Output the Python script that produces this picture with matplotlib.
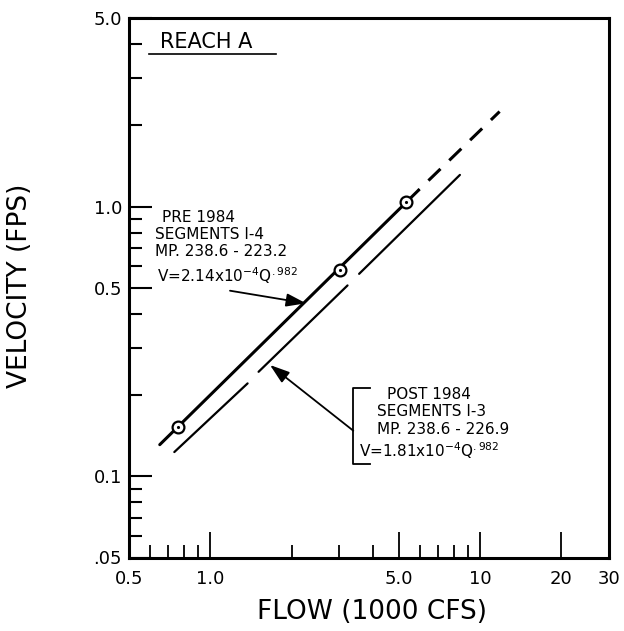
import matplotlib
matplotlib.use("Agg")
import matplotlib.pyplot as plt
from matplotlib.ticker import NullFormatter
from matplotlib.lines import Line2D

# values (flow in 1000 cfs, velocity in fps)
pre_q = [0.65, 5.91]
pre_v = [0.131, 1.15]
pre_ext_q = [5.91, 11.8]
pre_ext_v = [1.15, 2.25]
pre_pts_q = [0.757, 3.03, 5.33]
pre_pts_v = [0.152, 0.584, 1.04]
# post 1984 line is drawn in three broken pieces
post_q = [[0.736, 1.375], [1.51, 3.225], [3.56, 8.41]]
post_v = [[0.123, 0.221], [0.244, 0.510], [0.563, 1.31]]

x_major = [0.5, 1.0, 5.0, 10, 20, 30]
x_labels = ["0.5", "1.0", "5.0", "10", "20", "30"]
x_minor = [0.6, 0.7, 0.8, 0.9, 2, 3, 4, 6, 7, 8, 9]
y_major = [0.05, 0.1, 0.5, 1.0, 5.0]
y_labels = [".05", "0.1", "0.5", "1.0", "5.0"]
y_minor = [0.06, 0.07, 0.08, 0.09, 0.2, 0.3, 0.4, 0.6, 0.7, 0.8, 0.9, 2, 3, 4]

plt.rcParams['font.family'] = ['DejaVu Sans']
plt.rcParams['mathtext.fontset'] = 'dejavusans'

fig = plt.figure(figsize=(6.24, 6.31), dpi=100)
ax = fig.add_axes([129 / 624, (631 - 557.5) / 631, 480 / 624, 539.5 / 631])
ax.set_xscale('log')
ax.set_yscale('log')
ax.set_xlim(0.5, 30)
ax.set_ylim(0.05, 5)

ax.set_xticks(x_major)
ax.set_xticklabels(x_labels)
ax.set_xticks(x_minor, minor=True)
ax.set_yticks(y_major)
ax.set_yticklabels(y_labels)
ax.set_yticks(y_minor, minor=True)
ax.xaxis.set_minor_formatter(NullFormatter())
ax.yaxis.set_minor_formatter(NullFormatter())
ax.tick_params(axis='x', which='major', direction='in', length=19, width=1.3, pad=9, labelsize=13)
ax.tick_params(axis='x', which='minor', direction='in', length=9.5, width=1.3)
ax.tick_params(axis='y', which='major', direction='in', length=16.5, width=1.5, pad=5, labelsize=13)
ax.tick_params(axis='y', which='minor', direction='in', length=9, width=1.5)
for s in ax.spines.values():
    s.set_linewidth(2.2)

# lines
ax.plot(pre_q, pre_v, color='black', lw=2.2, solid_capstyle='round')
ax.plot(pre_ext_q, pre_ext_v, color='black', lw=2.2, linestyle=(5, (5.5, 4)))
for q, v in zip(post_q, post_v):
    ax.plot(q, v, color='black', lw=1.6, solid_capstyle='round')
ax.plot(pre_pts_q, pre_pts_v, 'o', ms=8.5, mfc='white', mec='black', mew=1.6, zorder=5)
ax.plot(pre_pts_q, pre_pts_v, '.', ms=2.5, color='black', zorder=6)


def px(x, y):
    # pixel position on the 624x631 picture -> axes fraction
    return ((x - 129) / 480, (557.5 - y) / 539.5)


tr = ax.transAxes
ax.text(*px(160, 47.7), "REACH A", transform=tr, fontsize=15, va='baseline')
ax.add_line(Line2D([px(149, 0)[0], px(276, 0)[0]], [px(0, 54.3)[1]] * 2,
                   transform=tr, color='black', lw=1.2, clip_on=False))

fs = 11
ax.text(*px(161.7, 221.7), "PRE 1984", transform=tr, fontsize=fs, va='baseline')
ax.text(*px(155, 239.3), "SEGMENTS I-4", transform=tr, fontsize=fs, va='baseline')
ax.text(*px(155, 256), "MP. 238.6 - 223.2", transform=tr, fontsize=fs, va='baseline')
ax.text(*px(156.7, 282.3), r"V=2.14x10$^{-4}$Q$^{.982}$", transform=tr, fontsize=fs, va='baseline')
ax.annotate("", xy=px(306, 303.3), xytext=px(230, 290.7), xycoords=tr, textcoords=tr,
            arrowprops=dict(arrowstyle='-|>,head_length=0.6,head_width=0.2', color='black',
                            lw=1.3, mutation_scale=20, shrinkA=0, shrinkB=0))

ax.text(*px(386.7, 399.3), "POST 1984", transform=tr, fontsize=fs, va='baseline')
ax.text(*px(377, 416), "SEGMENTS I-3", transform=tr, fontsize=fs, va='baseline')
ax.text(*px(377, 434.3), "MP. 238.6 - 226.9", transform=tr, fontsize=fs, va='baseline')
ax.text(*px(359, 456.7), r"V=1.81x10$^{-4}$Q$^{.982}$", transform=tr, fontsize=fs, va='baseline')
bx = [px(370, 0)[0], px(353.3, 0)[0], px(353.3, 0)[0], px(370, 0)[0]]
by = [px(0, 388)[1], px(0, 388)[1], px(0, 464)[1], px(0, 464)[1]]
ax.add_line(Line2D(bx, by, transform=tr, color='black', lw=1.3))
ax.annotate("", xy=px(270, 365), xytext=px(353.3, 430.7), xycoords=tr, textcoords=tr,
            arrowprops=dict(arrowstyle='-|>,head_length=0.6,head_width=0.2', color='black',
                            lw=1.3, mutation_scale=20, shrinkA=0, shrinkB=0))

fig.text(372 / 624, 1 - 612 / 631, "FLOW (1000 CFS)", fontsize=19, ha='center', va='center')
fig.text(20 / 624, 1 - 286 / 631, "VELOCITY (FPS)", fontsize=19, rotation=90, ha='center', va='center')

fig.savefig("out.png", dpi=100)
